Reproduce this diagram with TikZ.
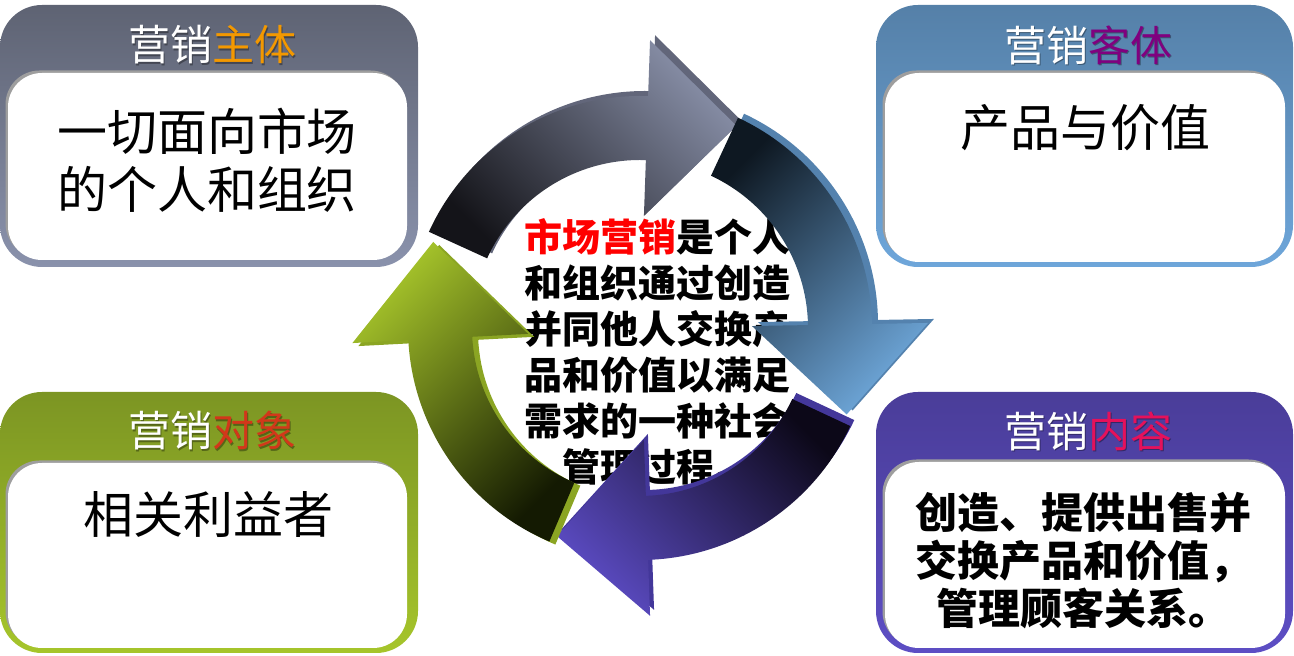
\documentclass[tikz,border=0pt]{standalone}
\usepackage{fontspec}
\setmainfont{Noto Sans CJK SC}
\definecolor{tlTop}{HTML}{5E6373}
\definecolor{tlBot}{HTML}{8A92AC}
\definecolor{trTop}{HTML}{5580A8}
\definecolor{trBot}{HTML}{6EA6DA}
\definecolor{blTop}{HTML}{7C9523}
\definecolor{blBot}{HTML}{A6C52B}
\definecolor{brTop}{HTML}{4A3D99}
\definecolor{brBot}{HTML}{5D4EC4}
\definecolor{cOrange}{HTML}{F39800}
\definecolor{cPurple}{HTML}{80007F}
\definecolor{cRedOr}{HTML}{D2381A}
\definecolor{cCrimson}{HTML}{E5115B}
\definecolor{grayLight}{HTML}{868DA5}
\definecolor{grayDark}{HTML}{141419}
\definecolor{graySide}{HTML}{62667A}
\definecolor{blueLight}{HTML}{6CA4D6}
\definecolor{blueDark}{HTML}{0E1822}
\definecolor{blueSide}{HTML}{5482AE}
\definecolor{purLight}{HTML}{5A4AC0}
\definecolor{purDark}{HTML}{0C0818}
\definecolor{purSide}{HTML}{43379A}
\definecolor{grnLight}{HTML}{A4C22A}
\definecolor{grnDark}{HTML}{141A02}
\definecolor{grnSide}{HTML}{8BA523}
\newcommand\cyclearrow[4]{%
  \path[#4] (#1:232) arc[start angle=#1, end angle=#2, radius=232]
    -- (#2:288) -- (#3:224) -- (#2:112) -- (#2:168)
    arc[start angle=#2, end angle=#1, radius=168] -- cycle;}
\tikzset{
  outerbox/.style={rectangle, rounded corners=42pt, inner sep=0pt, draw=none,
    minimum width=418pt, minimum height=262pt},
  innerbox/.style={rectangle, rounded corners=34pt, inner sep=0pt, fill=white,
    minimum width=399pt},
  innershadow/.style={rectangle, rounded corners=34pt, inner sep=0pt, fill=black!38,
    minimum width=399pt},
  titletext/.style={font=\fontsize{42}{50}\selectfont, text=white, inner sep=0pt},
  titleshadow/.style={font=\fontsize{42}{50}\selectfont, text=black, opacity=0.35, inner sep=0pt},
  bodytext/.style={font=\fontsize{50}{58}\selectfont, align=center, inner sep=0pt, text=black},
}
\begin{document}
\begin{tikzpicture}[x=1pt, y=1pt]
\useasboundingbox (0,0) rectangle (1294,656);
% ---- top-left box
\node[outerbox, top color=tlTop, bottom color=tlBot] (tl) at (209,520) {};
\node[innershadow, minimum height=187pt] (tlsh) at (205,492) {};
\node[innerbox, minimum height=187pt] (tlin) at (207.5,489.5) {};
\node[titleshadow] at (213.5,609.5) {营销主体};
\node[titletext] (tlt) at (212,611) {营销\textcolor{cOrange}{主体}};
\node[bodytext] (tlb) at (207,496) {一切面向市场\\的个人和组织};
% ---- top-right box
\node[outerbox, minimum width=417pt, top color=trTop, bottom color=trBot] (tr) at (1084.5,520) {};
\node[innershadow, minimum width=400pt, minimum height=189pt] (trsh) at (1082.5,491) {};
\node[innerbox, minimum width=400pt, minimum height=189pt] (trin) at (1085,488.5) {};
\node[titleshadow] at (1089.5,609.5) {营销客体};
\node[titletext] (trt) at (1088,611) {营销\textcolor{cPurple}{客体}};
\node[bodytext] (trb) at (1085,528) {产品与价值};
% ---- bottom-left box
\node[outerbox, minimum height=261pt, top color=blTop, bottom color=blBot] (bl) at (209,133.5) {};
\node[innershadow, minimum height=185pt] (blsh) at (205,103) {};
\node[innerbox, minimum height=185pt] (blin) at (207.5,100.5) {};
\node[titleshadow] at (213.5,223.5) {营销对象};
\node[titletext] (blt) at (212,225) {营销\textcolor{cRedOr}{对象}};
\node[bodytext] (blb) at (208,141) {相关利益者};
% ---- bottom-right box
\node[outerbox, minimum width=417pt, minimum height=261pt, top color=brTop, bottom color=brBot] (br) at (1084.5,133.5) {};
\node[innershadow, minimum width=400pt, minimum height=186pt] (brsh) at (1082.5,103.5) {};
\node[innerbox, minimum width=400pt, minimum height=186pt] (brin) at (1085,101) {};
\node[titleshadow] at (1089.5,223.5) {营销内容};
\node[titletext] (brt) at (1088,225) {营销\textcolor{cCrimson}{内容}};
\node[bodytext, font=\fontsize{42}{48}\selectfont\bfseries] (brb) at (1083,95)
  {创造、提供出售并\\交换产品和价值，\\管理顾客关系。};
% ---- center text
\node[align=center, inner sep=0pt, font=\fontsize{38}{46}\selectfont\bfseries] (ctext) at (657,304)
  {\textcolor{red}{市场营销}是个人\\和组织通过创造\\并同他人交换产\\品和价值以满足\\需求的一种社会\\管理过程。};
% ---- cycle arrows (side face first, then top face)
\begin{scope}[shift={(640,328)}]
  \cyclearrow{155.5}{88}{64.5}{fill=graySide, shift={(5,5)}}
  \cyclearrow{155.5}{88}{64.5}{top color=grayLight, bottom color=grayDark, shading angle=-45}
  \cyclearrow{65}{1}{-22.7}{fill=blueSide, shift={(6,4)}}
  \cyclearrow{65}{1}{-22.7}{top color=blueLight, bottom color=blueDark, shading angle=-135}
  \cyclearrow{-25}{-88}{-111.8}{fill=purSide, shift={(4,6)}}
  \cyclearrow{-25}{-88}{-111.8}{top color=purLight, bottom color=purDark, shading angle=135}
  \cyclearrow{247}{183}{157.4}{fill=grnSide, shift={(6,-3)}}
  \cyclearrow{247}{183}{157.4}{top color=grnLight, bottom color=grnDark, shading angle=45}
\end{scope}
\end{tikzpicture}
\end{document}
